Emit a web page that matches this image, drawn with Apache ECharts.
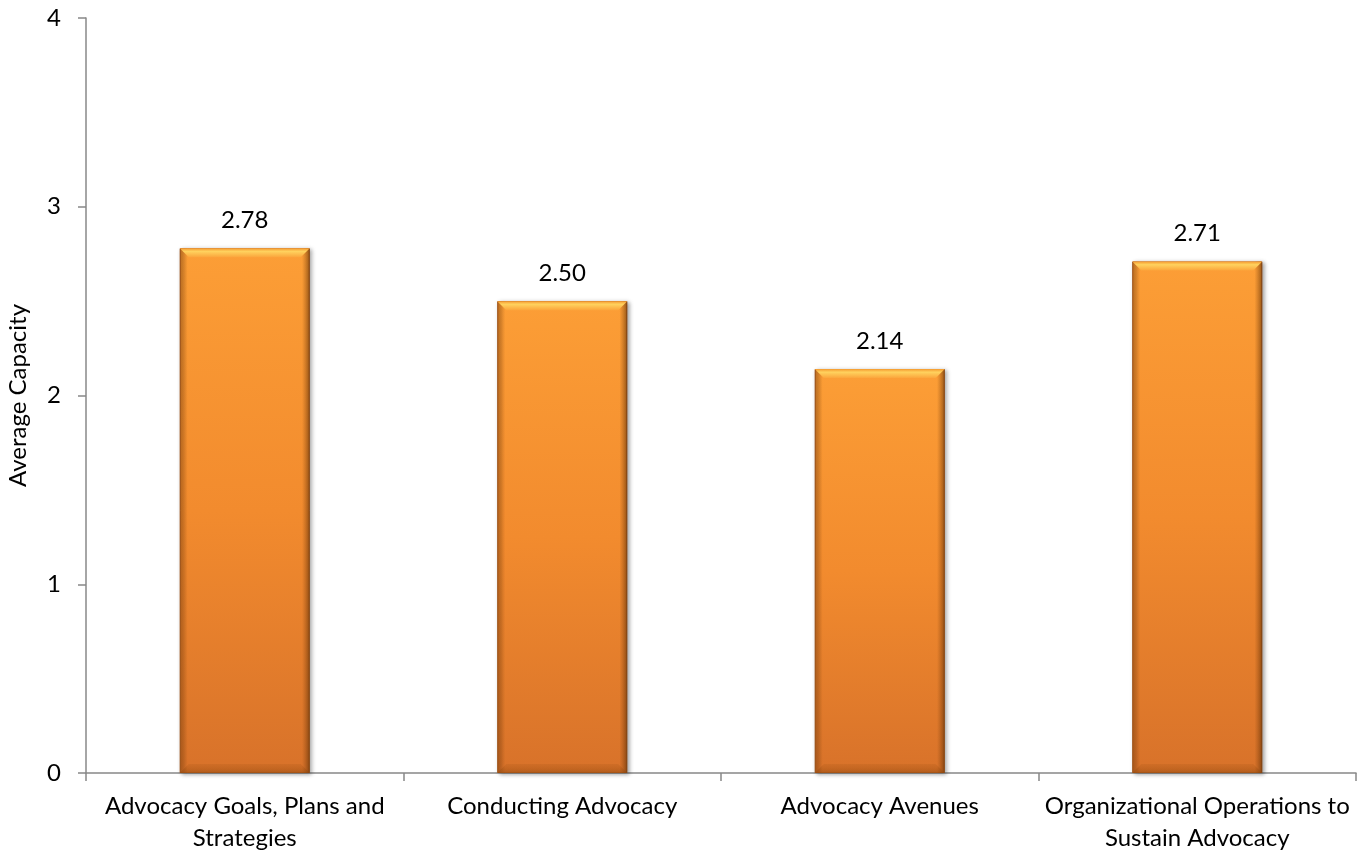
<!DOCTYPE html>
<html>
<head>
<meta charset="utf-8">
<script src="https://cdn.jsdelivr.net/npm/echarts@6/dist/echarts.min.js"></script>
<style>
  html, body { margin: 0; padding: 0; background: #fff; }
  #chart { width: 1369px; height: 852px; }
</style>
</head>
<body>
<div id="chart"></div>
<script>
// Capacity areas and their average scores
const categories = [
  'Advocacy Goals, Plans and\nStrategies',
  'Conducting Advocacy',
  'Advocacy Avenues',
  'Organizational Operations to\nSustain Advocacy'
];
const averageCapacity = [2.78, 2.50, 2.14, 2.71];
const yTicks = [0, 1, 2, 3, 4];

const FONT = 'Lato, "Open Sans", "Liberation Sans", sans-serif';
const FONT_SIZE = 24;
const AXIS_GRAY = '#888888';
const BAR_W = 130;
const BEVEL = 9;

// Top and bottom bevel facets drawn over each bar
function renderBevel(params, api) {
  const idx = api.value(0);
  const val = api.value(1);
  const top = api.coord([idx, val]);
  const base = api.coord([idx, 0]);
  const x0 = top[0] - BAR_W / 2;
  const x1 = top[0] + BAR_W / 2;
  const yt = top[1];
  const yb = base[1];
  return {
    type: 'group',
    children: [
      {
        type: 'polygon',
        shape: { points: [[x0, yt], [x1, yt], [x1 - BEVEL, yt + BEVEL], [x0 + BEVEL, yt + BEVEL]] },
        style: {
          fill: new echarts.graphic.LinearGradient(0, 0, 0, 1, [
            { offset: 0, color: '#F59A30' },
            { offset: 0.35, color: '#FFD25E' },
            { offset: 1, color: '#FBA53C' }
          ])
        },
        silent: true
      },
      {
        type: 'polygon',
        shape: { points: [[x0, yb], [x1, yb], [x1 - BEVEL, yb - BEVEL], [x0 + BEVEL, yb - BEVEL]] },
        style: {
          fill: new echarts.graphic.LinearGradient(0, 0, 0, 1, [
            { offset: 0, color: 'rgba(150,75,15,0.15)' },
            { offset: 1, color: 'rgba(150,75,15,0.45)' }
          ])
        },
        silent: true
      }
    ]
  };
}

const chart = echarts.init(document.getElementById('chart'), null, { renderer: 'canvas' });

chart.setOption({
  animation: false,
  backgroundColor: '#ffffff',
  grid: { left: 86, right: 13, top: 18, bottom: 79, containLabel: false, outerBoundsMode: 'none' },
  xAxis: {
    type: 'category',
    data: categories,
    axisLine: { lineStyle: { color: AXIS_GRAY, width: 1.5 } },
    axisTick: { show: true, length: 8, alignWithLabel: false, lineStyle: { color: AXIS_GRAY, width: 1.5 } },
    axisLabel: { color: '#000', fontFamily: FONT, fontSize: FONT_SIZE, lineHeight: 32, margin: 17, interval: 0 }
  },
  yAxis: {
    type: 'value',
    min: yTicks[0],
    max: yTicks[yTicks.length - 1],
    interval: 1,
    name: 'Average Capacity',
    nameLocation: 'middle',
    nameGap: 56,
    nameRotate: 90,
    nameTextStyle: { color: '#000', fontFamily: FONT, fontSize: FONT_SIZE },
    splitLine: { show: false },
    axisLine: { show: true, lineStyle: { color: AXIS_GRAY, width: 1.5 } },
    axisTick: { show: true, length: 8, lineStyle: { color: AXIS_GRAY, width: 1.5 } },
    axisLabel: { color: '#000', fontFamily: FONT, fontSize: FONT_SIZE, margin: 25 }
  },
  series: [
    {
      // main orange fill, lighter at the top
      type: 'bar',
      data: averageCapacity,
      barWidth: BAR_W,
      itemStyle: {
        color: new echarts.graphic.LinearGradient(0, 0, 0, 1, [
          { offset: 0, color: '#FC9E36' },
          { offset: 0.5, color: '#F28B2E' },
          { offset: 1, color: '#D8722A' }
        ]),
        borderColor: '#B45E1C',
        borderWidth: 1,
        shadowColor: 'rgba(0,0,0,0.35)',
        shadowBlur: 4,
        shadowOffsetX: 2,
        shadowOffsetY: 1
      },
      label: {
        show: true,
        position: 'top',
        distance: 16,
        color: '#000',
        fontFamily: FONT,
        fontSize: FONT_SIZE,
        formatter: p => p.value.toFixed(2)
      },
      z: 2
    },
    {
      // darker shading along the left and right edges
      type: 'bar',
      data: averageCapacity,
      barWidth: BAR_W,
      barGap: '-100%',
      silent: true,
      itemStyle: {
        color: new echarts.graphic.LinearGradient(0, 0, 1, 0, [
          { offset: 0, color: 'rgba(120,60,10,0.45)' },
          { offset: 0.06, color: 'rgba(120,60,10,0.0)' },
          { offset: 0.94, color: 'rgba(120,60,10,0.0)' },
          { offset: 1, color: 'rgba(90,45,5,0.6)' }
        ])
      },
      z: 3
    },
    {
      type: 'custom',
      data: averageCapacity.map((v, i) => [i, v]),
      renderItem: renderBevel,
      silent: true,
      z: 4
    }
  ]
});
</script>
</body>
</html>
